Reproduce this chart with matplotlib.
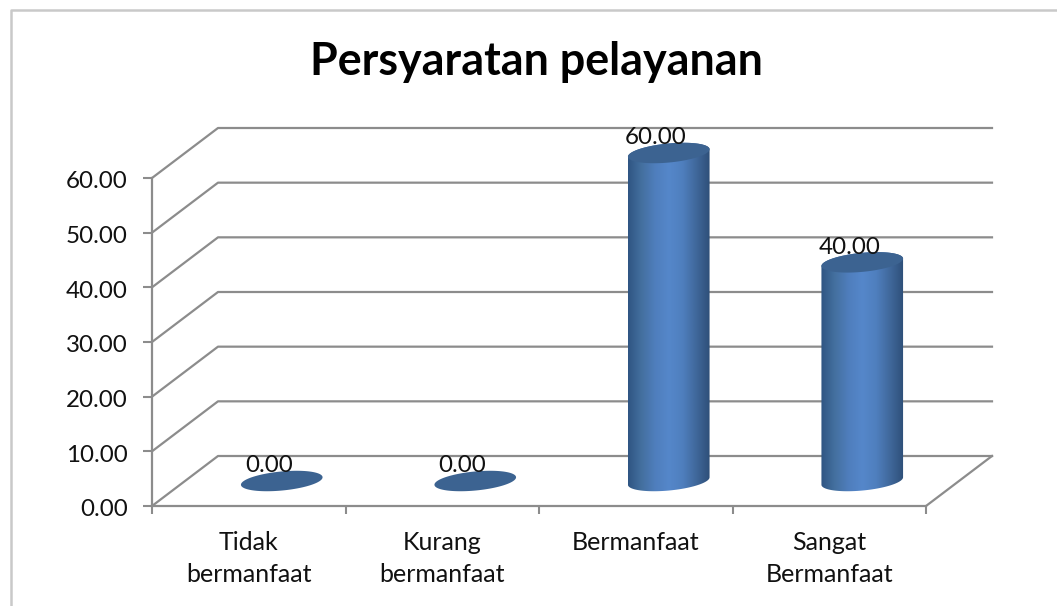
import matplotlib
matplotlib.use("Agg")
import matplotlib.pyplot as plt
import numpy as np
from matplotlib.colors import LinearSegmentedColormap
from matplotlib.lines import Line2D
from matplotlib.patches import Polygon
from matplotlib.transforms import ScaledTranslation

categories = ["Tidak\nbermanfaat", "Kurang\nbermanfaat", "Bermanfaat", "Sangat\nBermanfaat"]
values = [0.00, 0.00, 60.00, 40.00]
yticks = [0, 10, 20, 30, 40, 50, 60]

W, H = 1057, 606
GRID = "#8c8c8c"
CAP = "#3c6391"
FRAME = "#c9c9c9"
INK = "#111111"

plt.rcParams["font.family"] = ["Lato", "DejaVu Sans"]

fig = plt.figure(figsize=(W / 100, H / 100), dpi=100, facecolor="white")
# front plane of the fake 3d box
ax = fig.add_axes([152 / W, 1 - 506 / H, 774 / W, 328 / H])
ax.set_xlim(0, 4)
ax.set_ylim(0, 60)
ax.patch.set_visible(False)
for s in ("top", "right"):
    ax.spines[s].set_visible(False)
for s in ("left", "bottom"):
    ax.spines[s].set_color(GRID)
    ax.spines[s].set_linewidth(1.6)

ax.set_yticks(yticks, [f"{v:.2f}" for v in yticks], fontsize=17.4, color=INK)
ax.tick_params(axis="y", length=6.5, width=1.5, color=GRID, pad=11)
# labels sit a touch low in the original
nudge = ScaledTranslation(0, -2 / 100, fig.dpi_scale_trans)
for lab in ax.get_yticklabels():
    lab.set_transform(lab.get_transform() + nudge)
ax.set_xticks(range(5), [""] * 5)
ax.tick_params(axis="x", which="major", length=6, width=1.5, color=GRID)
ax.set_xticks(np.arange(4) + 0.5, categories, minor=True, fontsize=18, color=INK, linespacing=1.5)
ax.tick_params(axis="x", which="minor", length=0, pad=18)

# depth of the box in axis units
dx = 66 / 193.5
dy = 50 / (328 / 60)

for v in yticks:
    ax.plot([0, dx, 4 + dx], [v, v + dy, v + dy], color=GRID, lw=1.6, clip_on=False, zorder=1)
ax.plot([4, 4 + dx], [0, dy], color=GRID, lw=1.6, clip_on=False, zorder=1)

cmap = LinearSegmentedColormap.from_list(
    "cyl", ["#2f5583", "#44709f", "#4f7ebd", "#5587ca", "#4f7fbe", "#40689b", "#2e4f78"])

# cylinder sizes in pixels, converted to axis units below
rx, ry, tilt = 41.0, 9.5, np.radians(5.5)
sx = 4 / 774
sy = 60 / 328


def ellipse(cx, cy, t):
    px = rx * np.cos(t) * np.cos(tilt) - ry * np.sin(t) * np.sin(tilt)
    py = rx * np.cos(t) * np.sin(tilt) + ry * np.sin(t) * np.cos(tilt)
    return cx + px * sx, cy + py * sy


for i, v in enumerate(values):
    cx = i + 0.5 + dx / 2
    cy0 = dy / 2
    cy1 = v + dy / 2
    t = np.linspace(0, 2 * np.pi, 120)
    if v > 0:
        # body: lower half of base ellipse, up the right side, over the top
        bx, by = ellipse(cx, cy0, np.linspace(np.pi, 2 * np.pi, 60))
        ux, uy = ellipse(cx, cy1, np.linspace(0, np.pi, 60))
        body = np.column_stack([np.r_[bx, ux], np.r_[by, uy]])
        poly = Polygon(body, closed=True, transform=ax.transData, fc="none", ec="none")
        ax.add_patch(poly)
        im = ax.imshow(np.linspace(0, 1, 256)[None, :], cmap=cmap, aspect="auto",
                       extent=[cx - rx * sx, cx + rx * sx, 0, cy1 + ry * sy * 2],
                       zorder=3)
        im.set_clip_box(fig.bbox)
        im.set_clip_path(poly)
    ex, ey = ellipse(cx, cy1, t)
    ax.fill(ex, ey, color=CAP, lw=0, zorder=4, clip_on=False)
    ax.text(cx - 13 * sx, v + dy / 2 + 15 * sy, f"{v:.2f}", ha="center", va="center",
            fontsize=17.4, color=INK, zorder=5)

ax.set_xlim(0, 4)
ax.set_ylim(0, 60)

fig.text(536 / W, 1 - 62 / H, "Persyaratan pelayanan", ha="center", va="center",
         fontsize=32.3, fontweight="bold", color="black")

# outer chart frame: only left and top edges are in the crop
fig.add_artist(Line2D([10.5 / W, 10.5 / W, 1], [0, 1 - 10 / H, 1 - 10 / H],
                      transform=fig.transFigure, color=FRAME, lw=1.8))

fig.savefig("out.png", dpi=100)
